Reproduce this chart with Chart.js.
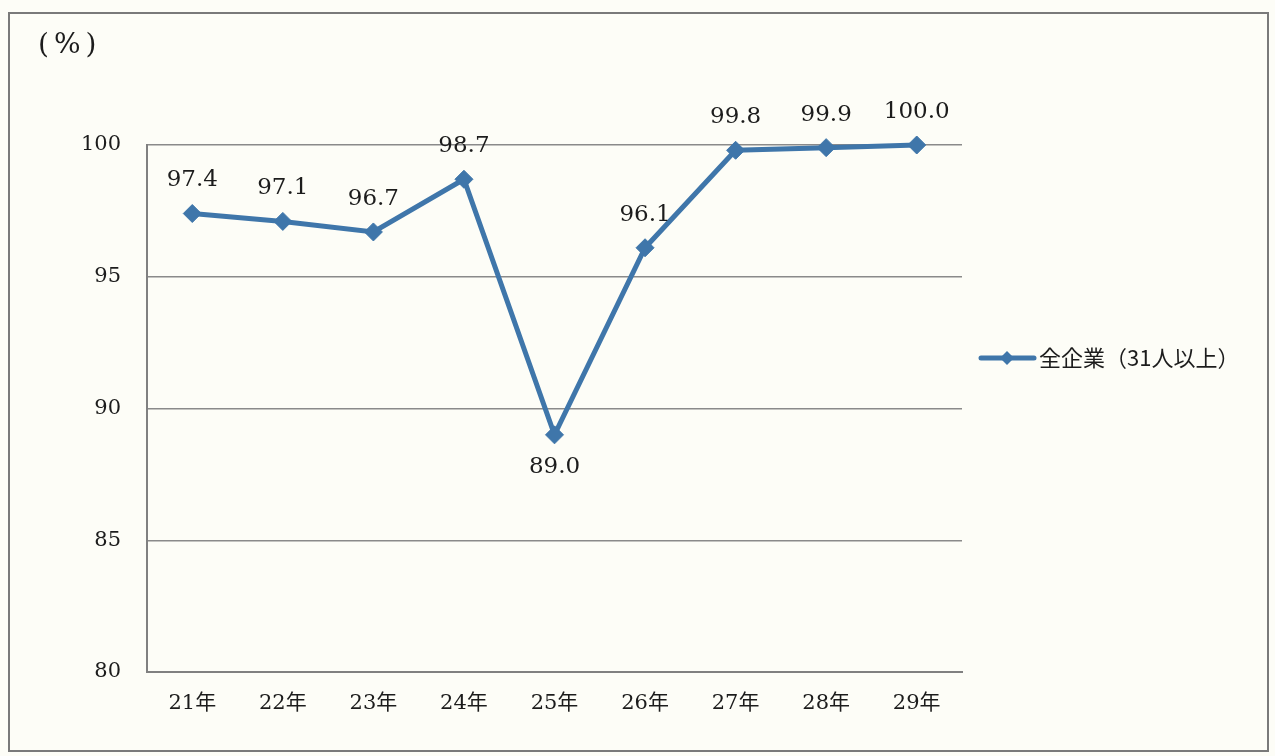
<!DOCTYPE html>
<html lang="ja">
<head>
    <meta charset="UTF-8">
    <title>全企業（31人以上）</title>
    <style>
        html, body { margin: 0; padding: 0; background: #fdfdf7; }
        #myChart { display: block; }
    </style>
    <script src="https://cdn.jsdelivr.net/npm/chart.js"></script>
</head>
<body>
    <canvas id="myChart" width="1275" height="756"></canvas>
    <script>
        // data
        const years = ['21年', '22年', '23年', '24年', '25年', '26年', '27年', '28年', '29年'];
        const rates = [97.4, 97.1, 96.7, 98.7, 89.0, 96.1, 99.8, 99.9, 100.0];
        const yTicks = [80, 85, 90, 95, 100];
        const seriesName = '全企業（31人以上）';
        const unitLabel = '(%)';

        const lineColor = '#3f76aa';
        const serif = '"DejaVu Serif", "Noto Sans CJK JP", serif';
        const gothic = '"Noto Sans CJK JP", sans-serif';

        // frame, unit label, legend, value labels
        const decorations = {
            id: 'decorations',
            beforeDraw(chart) {
                const ctx = chart.ctx;
                ctx.save();
                ctx.fillStyle = '#fdfdf7';
                ctx.fillRect(0, 0, chart.width, chart.height);
                ctx.restore();
            },
            afterDraw(chart) {
                const ctx = chart.ctx;
                ctx.save();
                // outer frame
                ctx.strokeStyle = '#7a7a7a';
                ctx.lineWidth = 2;
                ctx.strokeRect(9, 13, 1259, 738);

                // unit label, spaced out like the full-width original
                ctx.fillStyle = '#1c1c1c';
                ctx.font = '28px ' + serif;
                ctx.letterSpacing = '5px';
                ctx.textAlign = 'left';
                ctx.textBaseline = 'middle';
                ctx.fillText(unitLabel, 38, 46);
                ctx.letterSpacing = '0px';

                // legend
                const ly = 358;
                ctx.strokeStyle = lineColor;
                ctx.lineWidth = 5;
                ctx.lineCap = 'round';
                ctx.beginPath();
                ctx.moveTo(981, ly);
                ctx.lineTo(1034, ly);
                ctx.stroke();
                ctx.fillStyle = lineColor;
                ctx.beginPath();
                ctx.moveTo(1007, ly - 7);
                ctx.lineTo(1014, ly);
                ctx.lineTo(1007, ly + 7);
                ctx.lineTo(1000, ly);
                ctx.closePath();
                ctx.fill();
                ctx.fillStyle = '#1c1c1c';
                ctx.font = '22px ' + gothic;
                ctx.textAlign = 'left';
                ctx.fillText(seriesName, 1039, ly);

                // value labels
                const meta = chart.getDatasetMeta(0);
                ctx.font = '23px ' + serif;
                ctx.textAlign = 'center';
                meta.data.forEach((pt, i) => {
                    const v = rates[i];
                    const below = i === 4;
                    const y = below ? pt.y + 32 : pt.y - 33;
                    ctx.fillText(v.toFixed(1), pt.x, y);
                });
                ctx.restore();
            }
        };

        new Chart(document.getElementById('myChart').getContext('2d'), {
            type: 'line',
            data: {
                labels: years,
                datasets: [{
                    label: seriesName,
                    data: rates,
                    borderColor: lineColor,
                    backgroundColor: lineColor,
                    borderWidth: 5,
                    pointStyle: 'rectRot',
                    pointRadius: 9,
                    pointHoverRadius: 9,
                    pointBorderWidth: 1,
                    tension: 0,
                    clip: false
                }]
            },
            options: {
                responsive: false,
                animation: false,
                layout: {
                    padding: { left: 0, right: 313, top: 145, bottom: 0 }
                },
                plugins: {
                    legend: { display: false },
                    tooltip: { enabled: false }
                },
                scales: {
                    x: {
                        offset: true,
                        grid: { display: false, drawTicks: false },
                        border: { display: true, color: '#808080', width: 2 },
                        ticks: {
                            color: '#1c1c1c',
                            font: { family: serif, size: 21 },
                            padding: 19,
                            maxRotation: 0
                        },
                        afterFit(scale) { scale.height = 84; }
                    },
                    y: {
                        min: 80,
                        max: 100,
                        afterBuildTicks(scale) {
                            scale.ticks = yTicks.map(v => ({ value: v }));
                        },
                        grid: {
                            color: '#8a8a8a',
                            lineWidth: 1.5,
                            drawTicks: false
                        },
                        border: { display: true, color: '#808080', width: 2 },
                        ticks: {
                            color: '#1c1c1c',
                            font: { family: serif, size: 21 },
                            padding: 26
                        },
                        afterFit(scale) { scale.width = 147; }
                    }
                }
            },
            plugins: [decorations]
        });
    </script>
</body>
</html>
